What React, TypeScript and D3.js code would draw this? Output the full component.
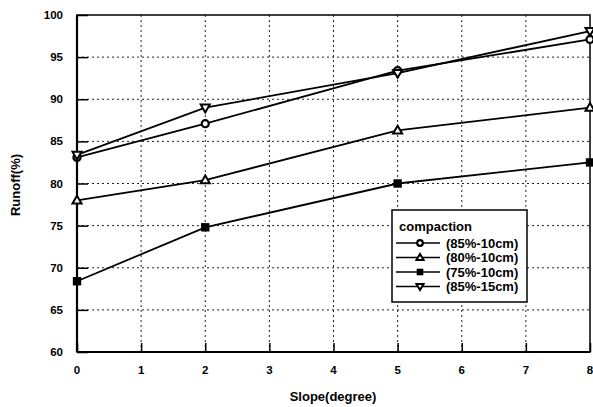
import React, { useEffect, useRef } from 'react';
import * as d3 from 'd3';

const slopes = [0, 2, 5, 8];
const seriesNames = ['(85%-10cm)', '(80%-10cm)', '(75%-10cm)', '(85%-15cm)'];
const c85_10 = [83.1, 87.1, 93.4, 97.1];
const c80_10 = [78, 80.4, 86.3, 89];
const c75_10 = [68.4, 74.8, 80, 82.5];
const c85_15 = [83.4, 89, 93.1, 98.1];
const xTicks = [0, 1, 2, 3, 4, 5, 6, 7, 8];
const yTicks = [60, 65, 70, 75, 80, 85, 90, 95, 100];

const symbols = ['circle', 'triangle', 'square', 'down'];

export default function App() {
  const ref = useRef<SVGSVGElement>(null);

  useEffect(() => {
    const width = 593;
    const height = 407;
    const margin = { top: 15, right: 3, bottom: 55, left: 77 };
    const font = 'Arial, "Liberation Sans", sans-serif';

    const svg = d3.select(ref.current);
    svg.selectAll('*').remove();

    const x = d3.scaleLinear().domain([0, 8]).range([margin.left, width - margin.right]);
    const y = d3.scaleLinear().domain([60, 100]).range([height - margin.bottom, margin.top]);

    // grid
    const grid = svg.append('g').attr('stroke', '#222').attr('stroke-width', 1).attr('stroke-dasharray', '2,3');
    grid.selectAll('line.v')
      .data(xTicks.slice(1, -1))
      .join('line')
      .attr('x1', (d) => x(d))
      .attr('x2', (d) => x(d))
      .attr('y1', y(100))
      .attr('y2', y(60));
    grid.selectAll('line.h')
      .data(yTicks.slice(1, -1))
      .join('line')
      .attr('class', 'h')
      .attr('x1', x(0))
      .attr('x2', x(8))
      .attr('y1', (d) => y(d))
      .attr('y2', (d) => y(d));

    // frame
    svg.append('rect')
      .attr('x', x(0))
      .attr('y', y(100))
      .attr('width', x(8) - x(0))
      .attr('height', y(60) - y(100))
      .attr('fill', 'none')
      .attr('stroke', '#000')
      .attr('stroke-width', 1.5);
    svg.append('line').attr('x1', x(0)).attr('x2', x(0)).attr('y1', y(100)).attr('y2', y(60)).attr('stroke', '#000').attr('stroke-width', 2.2);
    svg.append('line').attr('x1', x(0)).attr('x2', x(8)).attr('y1', y(60)).attr('y2', y(60)).attr('stroke', '#000').attr('stroke-width', 2.2);

    // y ticks
    const yAxis = svg.append('g').attr('transform', `translate(${x(0)},0)`)
      .call(d3.axisRight(y).tickValues(yTicks).tickSize(11).tickFormat((d) => ''));
    yAxis.select('.domain').remove();
    yAxis.selectAll('line').attr('stroke-width', 1.5);
    svg.append('g')
      .selectAll('text')
      .data(yTicks)
      .join('text')
      .attr('x', x(0) - 14)
      .attr('y', (d) => y(d) + 4)
      .attr('text-anchor', 'end')
      .attr('font-family', font)
      .attr('font-weight', 'bold')
      .attr('font-size', 11.5)
      .text((d) => d);

    // x ticks
    const xAxis = svg.append('g').attr('transform', `translate(0,${y(60)})`)
      .call(d3.axisTop(x).tickValues(xTicks).tickSize(9).tickFormat((d) => ''));
    xAxis.select('.domain').remove();
    xAxis.selectAll('line').attr('stroke-width', 1.5);
    svg.append('g')
      .selectAll('text')
      .data(xTicks)
      .join('text')
      .attr('x', (d) => x(d))
      .attr('y', y(60) + 22)
      .attr('text-anchor', 'middle')
      .attr('font-family', font)
      .attr('font-weight', 'bold')
      .attr('font-size', 11.5)
      .text((d) => d);

    // axis titles
    svg.append('text')
      .attr('x', 333)
      .attr('y', 401)
      .attr('text-anchor', 'middle')
      .attr('font-family', font)
      .attr('font-weight', 'bold')
      .attr('font-size', 13)
      .text('Slope(degree)');
    svg.append('text')
      .attr('transform', `translate(20,${185}) rotate(-90)`)
      .attr('text-anchor', 'middle')
      .attr('font-family', font)
      .attr('font-weight', 'bold')
      .attr('font-size', 13)
      .text('Runoff(%)');

    const drawMarker = (g: any, kind: string, cx: number, cy: number, s: number) => {
      if (kind === 'circle') {
        g.append('circle').attr('cx', cx).attr('cy', cy).attr('r', s * 0.85)
          .attr('fill', '#fff').attr('stroke', '#000').attr('stroke-width', 2.2);
      } else if (kind === 'square') {
        g.append('rect').attr('x', cx - s).attr('y', cy - s).attr('width', 2 * s).attr('height', 2 * s).attr('fill', '#000');
      } else {
        const sym = d3.symbol().type(d3.symbolTriangle).size(s * s * 2);
        g.append('path')
          .attr('d', sym())
          .attr('transform', `translate(${cx},${cy + (kind === 'down' ? -0.5 : 0.5)}) rotate(${kind === 'down' ? 180 : 0})`)
          .attr('fill', '#fff')
          .attr('stroke', '#000')
          .attr('stroke-width', 2);
      }
    };

    const allSeries = [c85_10, c80_10, c75_10, c85_15];
    const line = d3.line<number>().x((d, i) => x(slopes[i])).y((d) => y(d));
    const plot = svg.append('g');
    allSeries.forEach((vals) => {
      plot.append('path').attr('d', line(vals)).attr('fill', 'none').attr('stroke', '#000').attr('stroke-width', 1.8);
    });
    allSeries.forEach((vals, si) => {
      vals.forEach((v, i) => drawMarker(plot, symbols[si], x(slopes[i]), y(v), 4.2));
    });

    // legend
    const lg = svg.append('g');
    lg.append('rect')
      .attr('x', 392).attr('y', 210).attr('width', 135).attr('height', 92)
      .attr('fill', '#fff').attr('stroke', '#000').attr('stroke-width', 1.5);
    lg.append('text')
      .attr('x', 399).attr('y', 231)
      .attr('font-family', font).attr('font-weight', 'bold').attr('font-size', 13)
      .text('compaction');
    seriesNames.forEach((name, i) => {
      const cy = 243 + i * 14.5;
      lg.append('line').attr('x1', 396).attr('x2', 440).attr('y1', cy).attr('y2', cy).attr('stroke', '#000').attr('stroke-width', 1.5);
      drawMarker(lg, symbols[i], 420, cy, 3.3);
      lg.append('text')
        .attr('x', 446).attr('y', cy + 4.5)
        .attr('font-family', font).attr('font-weight', 'bold').attr('font-size', 13)
        .text(name);
    });
  }, []);

  return <svg ref={ref} width={593} height={407} style={{ position: 'absolute', left: 0, top: 0, background: '#fff' }} />;
}
